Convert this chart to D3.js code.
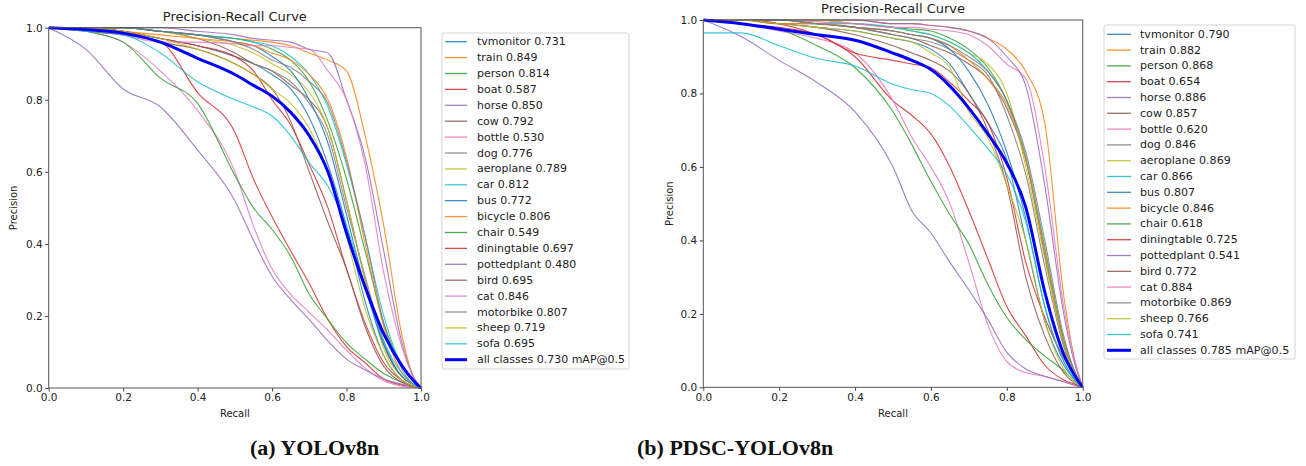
<!DOCTYPE html>
<html><head><meta charset="utf-8">
<script src="https://cdn.jsdelivr.net/npm/d3@7"></script>
<style>body{margin:0;background:#fff} svg{display:block}</style>
</head><body><svg id="c" width="1306" height="466"></svg><script>
// ---------- data ----------
const recallGrid = [0,0.1,0.2,0.3,0.4,0.5,0.55,0.6,0.65,0.7,0.75,0.8,0.85,0.9,0.95,0.98,1.0];
const classNames = ["tvmonitor","train","person","boat","horse","cow","bottle","dog","aeroplane","car","bus","bicycle","chair","diningtable","pottedplant","bird","cat","motorbike","sheep","sofa"];
const classColors = ["#1f77b4","#ff7f0e","#2ca02c","#d62728","#9467bd","#8c564b","#e377c2","#7f7f7f","#bcbd22","#17becf","#1f77b4","#ff7f0e","#2ca02c","#d62728","#9467bd","#8c564b","#e377c2","#7f7f7f","#bcbd22","#17becf"];
const apA = ["0.731","0.849","0.814","0.587","0.850","0.792","0.530","0.776","0.789","0.812","0.772","0.806","0.549","0.697","0.480","0.695","0.846","0.807","0.719","0.695"];
const apB = ["0.790","0.882","0.868","0.654","0.886","0.857","0.620","0.846","0.869","0.866","0.807","0.846","0.618","0.725","0.541","0.772","0.884","0.869","0.766","0.741"];
const mapA = "0.730";
const mapB = "0.785";
const xTicks = [0,0.2,0.4,0.6,0.8,1.0];
const yTicks = [0,0.2,0.4,0.6,0.8,1.0];

// precision values at recallGrid, per class (legend order) — YOLOv8n
const precisionA = [
 [1,1,0.99,0.97,0.95,0.92,0.90,0.87,0.83,0.75,0.62,0.45,0.24,0.09,0.02,0.005,0],
 [1,1,1,0.99,0.98,0.97,0.965,0.96,0.95,0.93,0.91,0.88,0.70,0.45,0.14,0.03,0],
 [1,1,1,0.99,0.98,0.97,0.96,0.94,0.91,0.85,0.74,0.58,0.38,0.18,0.06,0.02,0],
 [1,0.99,0.98,0.96,0.82,0.71,0.58,0.475,0.38,0.29,0.19,0.115,0.07,0.025,0.008,0.003,0],
 [1,1,1,1,0.99,0.98,0.97,0.965,0.96,0.94,0.93,0.80,0.64,0.38,0.12,0.03,0],
 [1,1,1,0.99,0.97,0.93,0.90,0.88,0.84,0.80,0.72,0.52,0.30,0.12,0.03,0.01,0],
 [1,0.99,0.96,0.88,0.77,0.60,0.45,0.33,0.26,0.21,0.16,0.105,0.055,0.02,0.005,0.002,0],
 [1,1,0.99,0.97,0.95,0.92,0.90,0.88,0.85,0.79,0.70,0.50,0.31,0.13,0.03,0.01,0],
 [1,1,1,0.99,0.97,0.95,0.93,0.90,0.87,0.82,0.72,0.52,0.30,0.11,0.03,0.01,0],
 [1,1,1,0.99,0.98,0.97,0.96,0.95,0.92,0.87,0.78,0.62,0.42,0.20,0.06,0.02,0],
 [1,1,1,0.99,0.98,0.96,0.95,0.92,0.88,0.80,0.68,0.48,0.28,0.12,0.03,0.01,0],
 [1,1,0.99,0.98,0.97,0.96,0.95,0.93,0.91,0.87,0.80,0.64,0.40,0.17,0.04,0.01,0],
 [1,0.99,0.96,0.86,0.79,0.59,0.50,0.44,0.365,0.26,0.19,0.125,0.08,0.04,0.015,0.005,0],
 [1,1,0.99,0.97,0.95,0.92,0.88,0.80,0.73,0.62,0.50,0.33,0.18,0.07,0.02,0.005,0],
 [1,0.94,0.83,0.78,0.66,0.52,0.41,0.31,0.245,0.19,0.13,0.08,0.05,0.025,0.01,0.005,0],
 [1,1,0.99,0.96,0.94,0.90,0.87,0.83,0.74,0.60,0.46,0.33,0.17,0.06,0.015,0.005,0],
 [1,1,0.98,0.96,0.96,0.955,0.95,0.95,0.945,0.94,0.88,0.80,0.62,0.32,0.11,0.03,0],
 [1,1,1,0.99,0.98,0.96,0.94,0.91,0.89,0.85,0.79,0.63,0.42,0.18,0.05,0.01,0],
 [1,1,0.99,0.97,0.94,0.90,0.87,0.83,0.79,0.72,0.60,0.42,0.22,0.09,0.02,0.005,0],
 [1,0.99,0.98,0.93,0.85,0.80,0.78,0.755,0.70,0.625,0.56,0.45,0.28,0.13,0.04,0.01,0]
];
const allClassesA = [1,0.995,0.985,0.96,0.915,0.87,0.84,0.81,0.765,0.70,0.60,0.43,0.28,0.15,0.06,0.02,0];

// PDSC-YOLOv8n
const precisionB = [
 [1,1,0.99,0.98,0.97,0.95,0.94,0.92,0.88,0.80,0.72,0.62,0.40,0.18,0.06,0.02,0],
 [1,1,1,1,1,0.99,0.99,0.985,0.98,0.97,0.95,0.92,0.86,0.72,0.25,0.07,0],
 [1,1,1,1,0.99,0.98,0.975,0.97,0.95,0.92,0.87,0.78,0.62,0.38,0.13,0.04,0],
 [1,0.99,0.98,0.96,0.90,0.78,0.74,0.69,0.60,0.48,0.35,0.22,0.14,0.06,0.02,0.008,0],
 [1,1,1,1,1,0.99,0.99,0.985,0.98,0.97,0.95,0.90,0.82,0.55,0.20,0.06,0],
 [1,1,1,0.99,0.98,0.96,0.95,0.93,0.91,0.88,0.84,0.76,0.62,0.36,0.12,0.04,0],
 [1,0.99,0.97,0.95,0.91,0.78,0.68,0.60,0.50,0.34,0.17,0.07,0.04,0.03,0.015,0.005,0],
 [1,1,0.99,0.99,0.98,0.96,0.95,0.94,0.92,0.89,0.85,0.74,0.58,0.33,0.11,0.03,0],
 [1,1,1,1,0.99,0.98,0.97,0.96,0.94,0.91,0.88,0.80,0.60,0.35,0.12,0.04,0],
 [1,1,1,0.99,0.99,0.98,0.97,0.96,0.94,0.91,0.86,0.78,0.63,0.38,0.12,0.04,0],
 [1,1,1,0.99,0.98,0.97,0.96,0.95,0.92,0.86,0.77,0.64,0.46,0.22,0.07,0.02,0],
 [1,1,0.99,0.99,0.98,0.97,0.96,0.95,0.93,0.89,0.84,0.77,0.62,0.37,0.12,0.03,0],
 [1,0.99,0.975,0.93,0.87,0.75,0.66,0.56,0.47,0.39,0.28,0.19,0.13,0.085,0.045,0.015,0],
 [1,1,0.99,0.96,0.91,0.89,0.88,0.87,0.83,0.78,0.72,0.57,0.34,0.19,0.08,0.03,0],
 [1,0.955,0.89,0.83,0.75,0.60,0.48,0.42,0.34,0.265,0.185,0.095,0.05,0.03,0.015,0.005,0],
 [1,1,0.99,0.98,0.96,0.93,0.91,0.89,0.86,0.80,0.70,0.55,0.30,0.14,0.04,0.01,0],
 [1,1,1,0.995,0.99,0.98,0.98,0.975,0.97,0.96,0.93,0.88,0.84,0.60,0.22,0.07,0],
 [1,1,1,0.99,0.98,0.97,0.96,0.95,0.93,0.90,0.86,0.78,0.64,0.40,0.14,0.04,0],
 [1,1,0.99,0.98,0.97,0.95,0.94,0.91,0.87,0.75,0.68,0.55,0.40,0.18,0.05,0.015,0],
 [0.965,0.965,0.93,0.895,0.875,0.825,0.81,0.80,0.765,0.71,0.65,0.58,0.45,0.22,0.07,0.02,0]
];
const allClassesB = [1,0.99,0.975,0.96,0.945,0.91,0.89,0.865,0.82,0.76,0.69,0.61,0.49,0.26,0.09,0.03,0];

// ---------- drawing ----------
const SANS = '"DejaVu Sans", sans-serif';
const SERIF = '"Liberation Serif", "DejaVu Serif", serif';
const svg = d3.select("#c");
const panels = [
  {id:"a", x0:48.7, x1:421, y0:27.7, y1:388, prec:precisionA, all:allClassesA, ap:apA, map:mapA,
   titleY:20.5, leg:{x:442,y:33,w:187,h:336,first:41.7,step:15.9,lx0:445,lx1:467,tx:477,fs:11},
   ylabX:14, caption:"(a) YOLOv8n", capX:250},
  {id:"b", x0:703.3, x1:1082.7, y0:20, y1:387.3, prec:precisionB, all:allClassesB, ap:apB, map:mapB,
   titleY:13, leg:{x:1104,y:25,w:191,h:334,first:34.3,step:15.8,lx0:1107,lx1:1131,tx:1140,fs:11.1},
   ylabX:670, caption:"(b) PDSC-YOLOv8n", capX:637}
];

panels.forEach(p => {
  const x = d3.scaleLinear().domain([0,1]).range([p.x0,p.x1]);
  const y = d3.scaleLinear().domain([0,1]).range([p.y1,p.y0]);
  const g = svg.append("g");
  g.append("clipPath").attr("id","clip"+p.id).append("rect")
    .attr("x",p.x0).attr("y",p.y0-2).attr("width",p.x1-p.x0+1).attr("height",p.y1-p.y0+3);

  const line = d3.line().x(d=>x(d[0])).y(d=>y(d[1])).curve(d3.curveMonotoneX);
  const curves = g.append("g").attr("clip-path","url(#clip"+p.id+")");
  p.prec.forEach((vals,i) => {
    curves.append("path").datum(recallGrid.map((r,k)=>[r,vals[k]]))
      .attr("d",line).attr("fill","none").attr("stroke",classColors[i])
      .attr("stroke-width",1.1).attr("stroke-opacity",0.85);
  });
  curves.append("path").datum(recallGrid.map((r,k)=>[r,p.all[k]]))
    .attr("d",line).attr("fill","none").attr("stroke","#0000ff").attr("stroke-width",3);

  // axes
  const ax = g.append("g").attr("transform",`translate(0,${p.y1})`)
    .call(d3.axisBottom(x).tickValues(xTicks).tickFormat(d3.format(".1f")).tickSize(3.5).tickPadding(2.5));
  const ay = g.append("g").attr("transform",`translate(${p.x0},0)`)
    .call(d3.axisLeft(y).tickValues(yTicks).tickFormat(d3.format(".1f")).tickSize(3.5).tickPadding(2.5));
  [ax,ay].forEach(a=>{
    a.select(".domain").remove();
    a.selectAll("line").attr("stroke","#444");
    a.selectAll("text").style("font-size","10.5px").style("fill","#222").style("font-family",SANS);
  });
  g.append("rect").attr("x",p.x0).attr("y",p.y0).attr("width",p.x1-p.x0).attr("height",p.y1-p.y0)
    .attr("fill","none").attr("stroke","#555").attr("stroke-width",1);

  // labels
  g.append("text").attr("x",(p.x0+p.x1)/2).attr("y",p.titleY).attr("text-anchor","middle")
    .style("font-family",SANS).style("font-size","13px").style("fill","#222").text("Precision-Recall Curve");
  g.append("text").attr("x",(p.x0+p.x1)/2).attr("y",417).attr("text-anchor","middle")
    .style("font-family",SANS).style("font-size","10px").style("fill","#222").text("Recall");
  g.append("text").attr("transform",`translate(${p.ylabX},${(p.y0+p.y1)/2}) rotate(-90)`)
    .attr("text-anchor","middle").attr("dominant-baseline","middle")
    .style("font-family",SANS).style("font-size","10px").style("fill","#222").text("Precision");

  // legend
  const L = p.leg;
  const lg = g.append("g");
  lg.append("rect").attr("x",L.x).attr("y",L.y).attr("width",L.w).attr("height",L.h)
    .attr("rx",2).attr("fill","#fff").attr("stroke","#d5d5d5");
  const entries = classNames.map((n,i)=>({label:n+" "+p.ap[i], color:classColors[i], w:1.3}))
    .concat([{label:"all classes "+p.map+" mAP@0.5", color:"#0000ff", w:3}]);
  entries.forEach((e,i)=>{
    const yy = L.first + i*L.step;
    lg.append("line").attr("x1",L.lx0).attr("x2",L.lx1).attr("y1",yy).attr("y2",yy)
      .attr("stroke",e.color).attr("stroke-width",e.w).attr("stroke-opacity",e.w>2?1:0.85);
    lg.append("text").attr("x",L.tx).attr("y",yy).attr("dominant-baseline","central")
      .style("font-family",SANS).style("font-size",L.fs+"px").style("fill","#222").text(e.label);
  });

  svg.append("text").attr("x",p.capX).attr("y",455)
    .style("font-family",SERIF).style("font-weight","bold")
    .style("font-size","22px").style("fill","#111").text(p.caption);
});
</script></body></html>
